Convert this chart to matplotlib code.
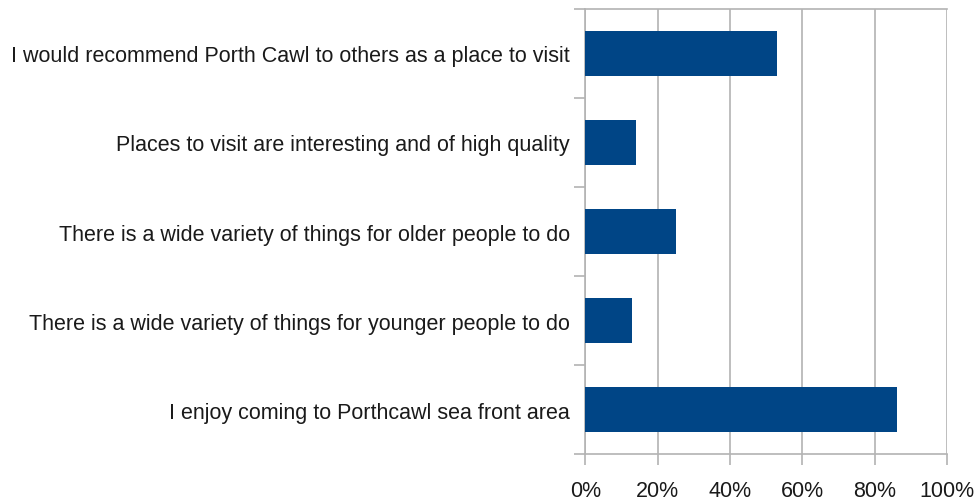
import matplotlib.pyplot as plt
from matplotlib.ticker import FixedLocator, PercentFormatter

statements = [
    "I would recommend Porth Cawl to others as a place to visit",
    "Places to visit are interesting and of high quality",
    "There is a wide variety of things for older people to do",
    "There is a wide variety of things for younger people to do",
    "I enjoy coming to Porthcawl sea front area",
]
agree_share = [0.53, 0.14, 0.25, 0.13, 0.86]

bar_color = "#004586"
line_color = "#b3b3b3"

plt.rcParams["font.family"] = ["Liberation Sans", "DejaVu Sans"]

fig = plt.figure(figsize=(9.74, 5.02), dpi=100)
ax = fig.add_axes([0.601, 0.0936, 0.3715, 0.8865])

# first statement at the top
ypos = list(range(len(statements)))[::-1]
ax.barh(ypos, agree_share, height=0.5, color=bar_color, zorder=3)

ax.set_xlim(0, 1)
ax.set_ylim(-0.5, len(statements) - 0.5)
ax.set_xticks([0, 0.2, 0.4, 0.6, 0.8, 1.0])
ax.xaxis.set_major_formatter(PercentFormatter(1.0, decimals=0))
ax.set_yticks(ypos)
ax.set_yticklabels(statements)

# category separators on the y axis
ax.yaxis.set_minor_locator(FixedLocator([i - 0.5 for i in range(len(statements) + 1)]))
ax.tick_params(axis="y", which="major", length=0, pad=11, labelsize=15.5, labelcolor="#1a1a1a")
ax.tick_params(axis="y", which="minor", length=8, width=1.2, color=line_color)
ax.tick_params(axis="x", which="major", length=8, width=1.2, color=line_color,
               pad=11, labelsize=15.5, labelcolor="#1a1a1a")

ax.grid(axis="x", color=line_color, linewidth=1.2, zorder=0)
for side in ["left", "bottom", "top", "right"]:
    ax.spines[side].set_color(line_color)
    ax.spines[side].set_linewidth(1.2)
ax.spines["right"].set_visible(False)

fig.savefig("out.png", dpi=100)
